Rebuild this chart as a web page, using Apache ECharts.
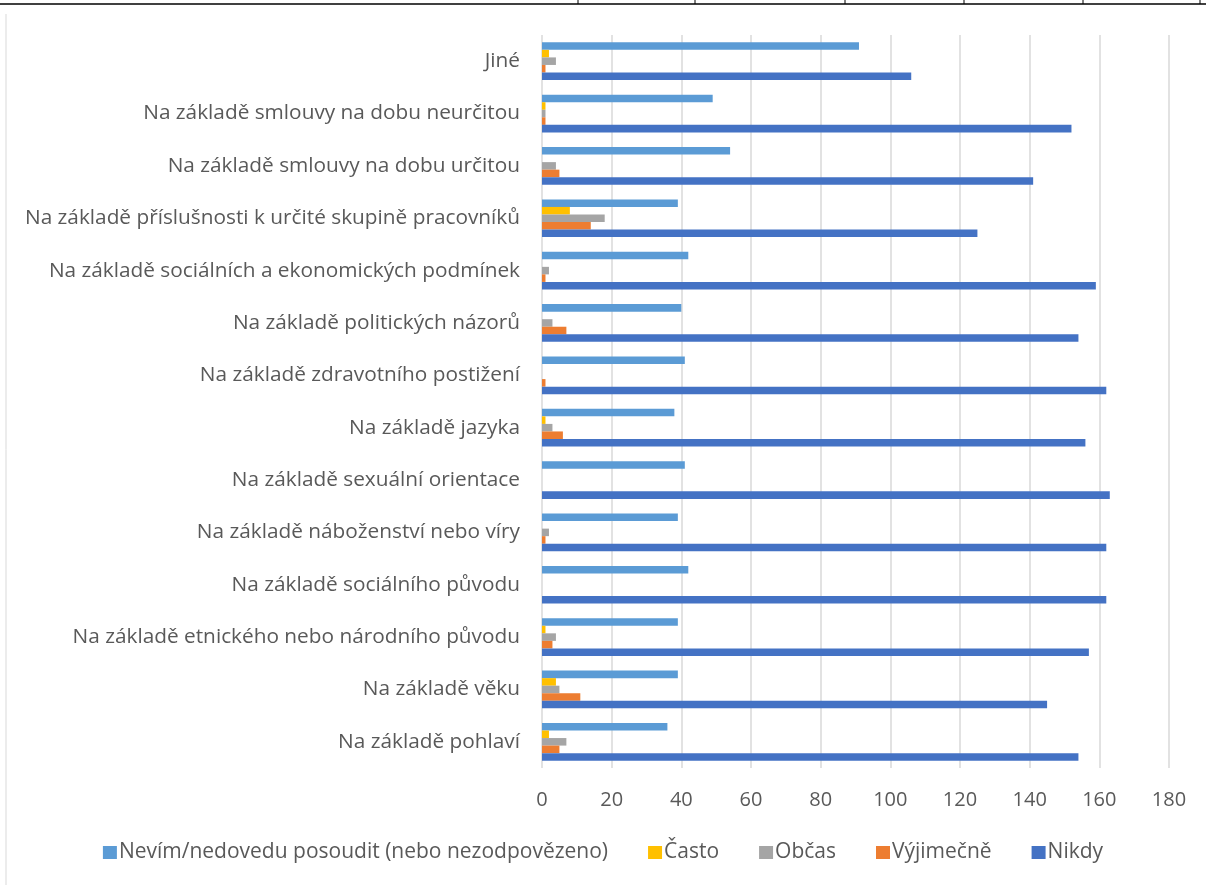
<!DOCTYPE html>
<html>
<head>
<meta charset="utf-8">
<title>Diskriminace</title>
<script src="https://cdn.jsdelivr.net/npm/echarts@6/dist/echarts.min.js"></script>
<style>
    html, body { margin: 0; padding: 0; background: #fff; }
    #my_chart { width: 1206px; height: 885px; }
</style>
</head>
<body>
<div id="my_chart"></div>
<script>
// kategorie (odspodu nahoru)
var categories = [
    'Na základě pohlaví',
    'Na základě věku',
    'Na základě etnického nebo národního původu',
    'Na základě sociálního původu',
    'Na základě náboženství nebo víry',
    'Na základě sexuální orientace',
    'Na základě jazyka',
    'Na základě zdravotního postižení',
    'Na základě politických názorů',
    'Na základě sociálních a ekonomických podmínek',
    'Na základě příslušnosti k určité skupině pracovníků',
    'Na základě smlouvy na dobu určitou',
    'Na základě smlouvy na dobu neurčitou',
    'Jiné'
];

// hodnoty řad (stejné pořadí jako kategorie)
var nevim      = [36, 39, 39, 42, 39, 41, 38, 41, 40, 42, 39, 54, 49, 91];
var casto      = [2, 4, 1, 0, 0, 0, 1, 0, 0, 0, 8, 0, 1, 2];
var obcas      = [7, 5, 4, 0, 2, 0, 3, 0, 3, 2, 18, 4, 1, 4];
var vyjimecne  = [5, 11, 3, 0, 1, 0, 6, 1, 7, 1, 14, 5, 1, 1];
var nikdy      = [154, 145, 157, 162, 162, 163, 156, 162, 154, 159, 125, 141, 152, 106];

// osa x
var xTicks = [0, 20, 40, 60, 80, 100, 120, 140, 160, 180];

var textColor = '#595959';
var fontFamily = '"Open Sans", sans-serif';

function bar(name, data, color) {
    return {
        name: name,
        type: 'bar',
        data: data,
        barGap: '0%',
        barCategoryGap: '28%',
        itemStyle: { color: color },
        emphasis: { disabled: true }
    };
}

var myChart = echarts.init(document.getElementById('my_chart'));
var option = {
    animation: false,
    textStyle: { fontFamily: fontFamily, color: textColor },
    grid: { left: 542, right: 37, top: 35, bottom: 117, containLabel: false },
    legend: {
        bottom: 17,
        left: 'center',
        itemWidth: 14,
        itemHeight: 13,
        itemGap: 40,
        icon: 'rect',
        textStyle: { fontSize: 21, color: textColor, fontFamily: fontFamily, padding: [0, 0, 0, -3] }
    },
    xAxis: {
        type: 'value',
        min: xTicks[0],
        max: xTicks[xTicks.length - 1],
        interval: xTicks[1] - xTicks[0],
        axisLine: { show: false },
        axisTick: { show: false },
        axisLabel: { fontSize: 20, color: textColor, margin: 22 },
        splitLine: { show: true, lineStyle: { color: '#d9d9d9', width: 1.5 } }
    },
    yAxis: {
        type: 'category',
        data: categories,
        axisLine: { show: false },
        axisTick: { show: false },
        axisLabel: { fontSize: 20.8, color: textColor, margin: 22 }
    },
    graphic: [
        { type: 'line', shape: { x1: 0, y1: 4, x2: 1206, y2: 4 }, style: { stroke: '#000', lineWidth: 1.5 } },
        { type: 'line', shape: { x1: 578, y1: 0, x2: 578, y2: 4 }, style: { stroke: '#000', lineWidth: 1 } },
        { type: 'line', shape: { x1: 695, y1: 0, x2: 695, y2: 4 }, style: { stroke: '#000', lineWidth: 1 } },
        { type: 'line', shape: { x1: 845, y1: 0, x2: 845, y2: 4 }, style: { stroke: '#000', lineWidth: 1 } },
        { type: 'line', shape: { x1: 964, y1: 0, x2: 964, y2: 4 }, style: { stroke: '#000', lineWidth: 1 } },
        { type: 'line', shape: { x1: 1083, y1: 0, x2: 1083, y2: 4 }, style: { stroke: '#000', lineWidth: 1 } },
        { type: 'line', shape: { x1: 1200, y1: 0, x2: 1200, y2: 4 }, style: { stroke: '#000', lineWidth: 1 } },
        { type: 'line', shape: { x1: 6, y1: 14, x2: 6, y2: 885 }, style: { stroke: '#d9d9d9', lineWidth: 1 } }
    ],
    // první řada se v ECharts kreslí nahoře ve skupině
    series: [
        bar('Nevím/nedovedu posoudit (nebo nezodpovězeno)', nevim, '#5B9BD5'),
        bar('Často', casto, '#FFC000'),
        bar('Občas', obcas, '#A5A5A5'),
        bar('Výjimečně', vyjimecne, '#ED7D31'),
        bar('Nikdy', nikdy, '#4472C4')
    ]
};
myChart.setOption(option);
</script>
</body>
</html>
